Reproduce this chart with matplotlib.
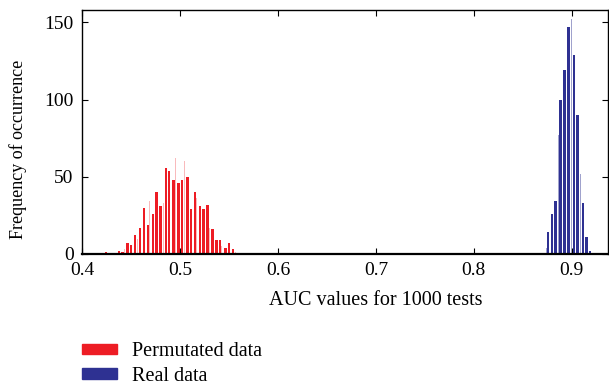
import matplotlib
matplotlib.use("Agg")
import matplotlib.pyplot as plt
from matplotlib.patches import Patch

# AUC histograms, values
perm_auc = [0.4245, 0.4378, 0.4415, 0.4466, 0.4503, 0.4541, 0.4595, 0.4633,
            0.4673, 0.4724, 0.4762, 0.4803, 0.4857, 0.4891, 0.4932, 0.4983,
            0.5020, 0.5075, 0.5112, 0.5153, 0.5204, 0.5241, 0.5279, 0.5333,
            0.5371, 0.5411, 0.5463, 0.5503, 0.5541]
perm_count = [1, 2, 1, 7, 6, 12, 17, 30, 19, 26, 40, 31, 56, 54, 48, 46,
              48, 50, 29, 40, 31, 29, 32, 16, 9, 9, 4, 7, 3]

# thin (faint) bars in between
perm_faint_auc = [0.4439, 0.4568, 0.4694, 0.4830, 0.4956, 0.5051, 0.5173,
                  0.5306, 0.5425, 0.5565]
perm_faint_count = [3, 10, 34, 33, 62, 60, 36, 17, 5, 1]

real_auc = [0.8758, 0.8796, 0.8833, 0.8885, 0.8925, 0.8966, 0.9020, 0.9058,
            0.9112, 0.9150, 0.9187]
real_count = [14, 26, 34, 100, 119, 147, 129, 90, 33, 11, 2]

real_faint_auc = [0.8738, 0.8864, 0.8993, 0.9085]
real_faint_count = [4, 77, 152, 52]

xticks = [0.4, 0.5, 0.6, 0.7, 0.8, 0.9]
yticks = [0, 50, 100, 150]

red = '#ED1C24'
blue = '#2E3192'

plt.rcParams['font.family'] = ['Liberation Serif', 'DejaVu Serif']

fig = plt.figure(figsize=(6.09, 3.87), dpi=100)
ax = fig.add_axes([0.1346, 0.3437, 0.8634, 0.6305])

ax.bar(perm_faint_auc, perm_faint_count, width=0.001, color=red, alpha=0.3, linewidth=0)
ax.bar(perm_auc, perm_count, width=0.0025, color=red, linewidth=0)
ax.bar(real_faint_auc, real_faint_count, width=0.001, color=blue, alpha=0.45, linewidth=0)
ax.bar(real_auc, real_count, width=0.0024, color=blue, linewidth=0)

ax.set_xlim(0.4, 0.9367)
ax.set_ylim(0, 158)
ax.set_xticks(xticks)
ax.set_xticklabels([f'{t:.1f}' for t in xticks])
ax.set_yticks(yticks)
ax.tick_params(direction='in', top=True, right=True, length=4, width=0.8,
               labelsize=14)
ax.tick_params(axis='x', pad=6)
ax.tick_params(axis='y', pad=6)
for s in ax.spines.values():
    s.set_linewidth(1.0)
ax.spines['bottom'].set_linewidth(1.6)

ax.set_xlabel('AUC values for 1000 tests', fontsize=14.5)
ax.xaxis.set_label_coords(0.559, -0.15)
ax.set_ylabel('Frequency of occurrence', fontsize=13)
ax.yaxis.set_label_coords(-0.105, 0.43)

handles = [Patch(color=red, label='Permutated data'),
           Patch(color=blue, label='Real data')]
fig.legend(handles=handles, loc='upper left', bbox_to_anchor=(0.118, 0.142),
           frameon=False, fontsize=14.5, handlelength=1.75, handleheight=0.4,
           labelspacing=0.28, handletextpad=0.75, borderpad=0)

fig.savefig('out.png', dpi=100)
